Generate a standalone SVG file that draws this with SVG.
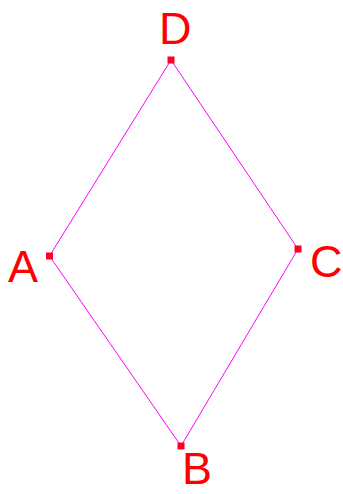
<svg xmlns="http://www.w3.org/2000/svg" width="343" height="494" viewBox="0 0 343 494">
<style>
.edge{stroke:#ff00ff;stroke-width:1;fill:none}
.pt{fill:#ff0022}
.lbl{font-family:"Liberation Sans",Arial,sans-serif;font-size:45px;fill:#ff0000}
</style>
<rect width="343" height="494" fill="#ffffff"/>
<g id="connectors">
<line class="edge" x1="171" y1="60" x2="298" y2="249"/>
<line class="edge" x1="298" y1="249" x2="181" y2="446"/>
<line class="edge" x1="181" y1="446" x2="49.5" y2="256"/>
<line class="edge" x1="49.5" y1="256" x2="171" y2="60"/>
</g>
<g id="D"><rect class="pt" x="167.5" y="56.5" width="7" height="7"/><text class="lbl" x="159" y="44">D</text></g>
<g id="C"><rect class="pt" x="294.5" y="245.5" width="7" height="7"/><text class="lbl" x="310" y="277">C</text></g>
<g id="B"><rect class="pt" x="177.5" y="442.5" width="7" height="7"/><text class="lbl" x="182" y="484">B</text></g>
<g id="A"><rect class="pt" x="46" y="252.5" width="7" height="7"/><text class="lbl" x="8" y="282">A</text></g>
</svg>
